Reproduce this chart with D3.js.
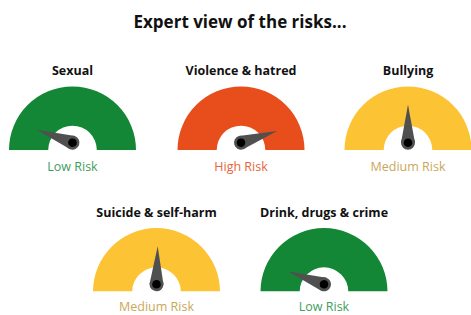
<!DOCTYPE html>
<html>
<head>
<meta charset="utf-8">
<script src="https://cdn.jsdelivr.net/npm/d3@7"></script>
<style>
  body { margin: 0; background: #fff; }
  text { font-family: "Open Sans", sans-serif; }
</style>
</head>
<body>
<svg width="471" height="315"></svg>
<script>
// The svg
var svg = d3.select("svg"),
    width = +svg.attr("width"),
    height = +svg.attr("height");

// Data
var categories = ["Sexual", "Violence & hatred", "Bullying", "Suicide & self-harm", "Drink, drugs & crime"];
var values = [11, 90, 50, 51, 11];          // needle position, 0..100
var levels = ["Low", "High", "Medium", "Medium", "Low"];
var levelNames = ["Low", "Medium", "High"];

// Colours
var arcColor = d3.scaleOrdinal()
    .domain(levelNames)
    .range(["#138735", "#fcc434", "#e84e1c"]);
var labelColor = d3.scaleOrdinal()
    .domain(levelNames)
    .range(["#3f9d5d", "#c9a75a", "#e6643a"]);

// Layout of the gauges (two rows)
var cx = [72.5, 241, 408, 156.5, 324];
var base = [145.7, 145.7, 145.7, 287.3, 287.3];

var outerR = 63.5, innerR = 24.3, drop = 4.3, needleLen = 38;

var angle = d3.scaleLinear().domain([0, 100]).range([-Math.PI / 2, Math.PI / 2]);

var arc = d3.arc()
    .innerRadius(innerR)
    .outerRadius(outerR)
    .startAngle(-Math.PI / 2)
    .endAngle(Math.PI / 2);

// Title
svg.append("text")
    .attr("x", 240)
    .attr("y", 28)
    .attr("text-anchor", "middle")
    .style("font-size", "17px")
    .style("font-weight", 700)
    .style("fill", "#111")
    .text("Expert view of the risks...");

var defs = svg.append("defs");

// clip the arc at the base line
defs.append("clipPath")
    .attr("id", "cut")
    .append("rect")
    .attr("x", -80).attr("y", -80)
    .attr("width", 160).attr("height", 80);

var g = svg.selectAll("g.gauge")
    .data(categories)
    .enter().append("g")
    .attr("class", "gauge")
    .attr("transform", function (d, i) { return "translate(" + cx[i] + "," + base[i] + ")"; });

g.append("path")
    .attr("clip-path", "url(#cut)")
    .attr("transform", "translate(0," + drop + ")")
    .attr("d", arc())
    .style("fill", function (d, i) { return arcColor(levels[i]); });

g.append("text")
    .attr("y", -70.5)
    .attr("text-anchor", "middle")
    .style("font-size", "12.5px")
    .style("font-weight", 700)
    .style("fill", "#111")
    .text(function (d) { return d; });

// keep the bottom row's label inside the picture
g.append("text")
    .attr("y", function (d, i) { return Math.min(25.5, height - 4 - base[i]); })
    .attr("text-anchor", "middle")
    .style("font-size", "12.5px")
    .style("fill", function (d, i) { return labelColor(levels[i]); })
    .text(function (d, i) { return levels[i] + " Risk"; });

// Needle
var needle = g.append("g")
    .attr("transform", function (d, i) {
        return "translate(0,-3) rotate(" + (angle(values[i]) * 180 / Math.PI) + ")";
    });

needle.append("path")
    .attr("d", "M-7,0 L0,-" + needleLen + " L7,0 Z")
    .style("fill", "#505050");
needle.append("circle")
    .attr("r", 7)
    .style("fill", "#505050");
needle.append("circle")
    .attr("r", 4.3)
    .style("fill", "#000");
</script>
</body>
</html>
